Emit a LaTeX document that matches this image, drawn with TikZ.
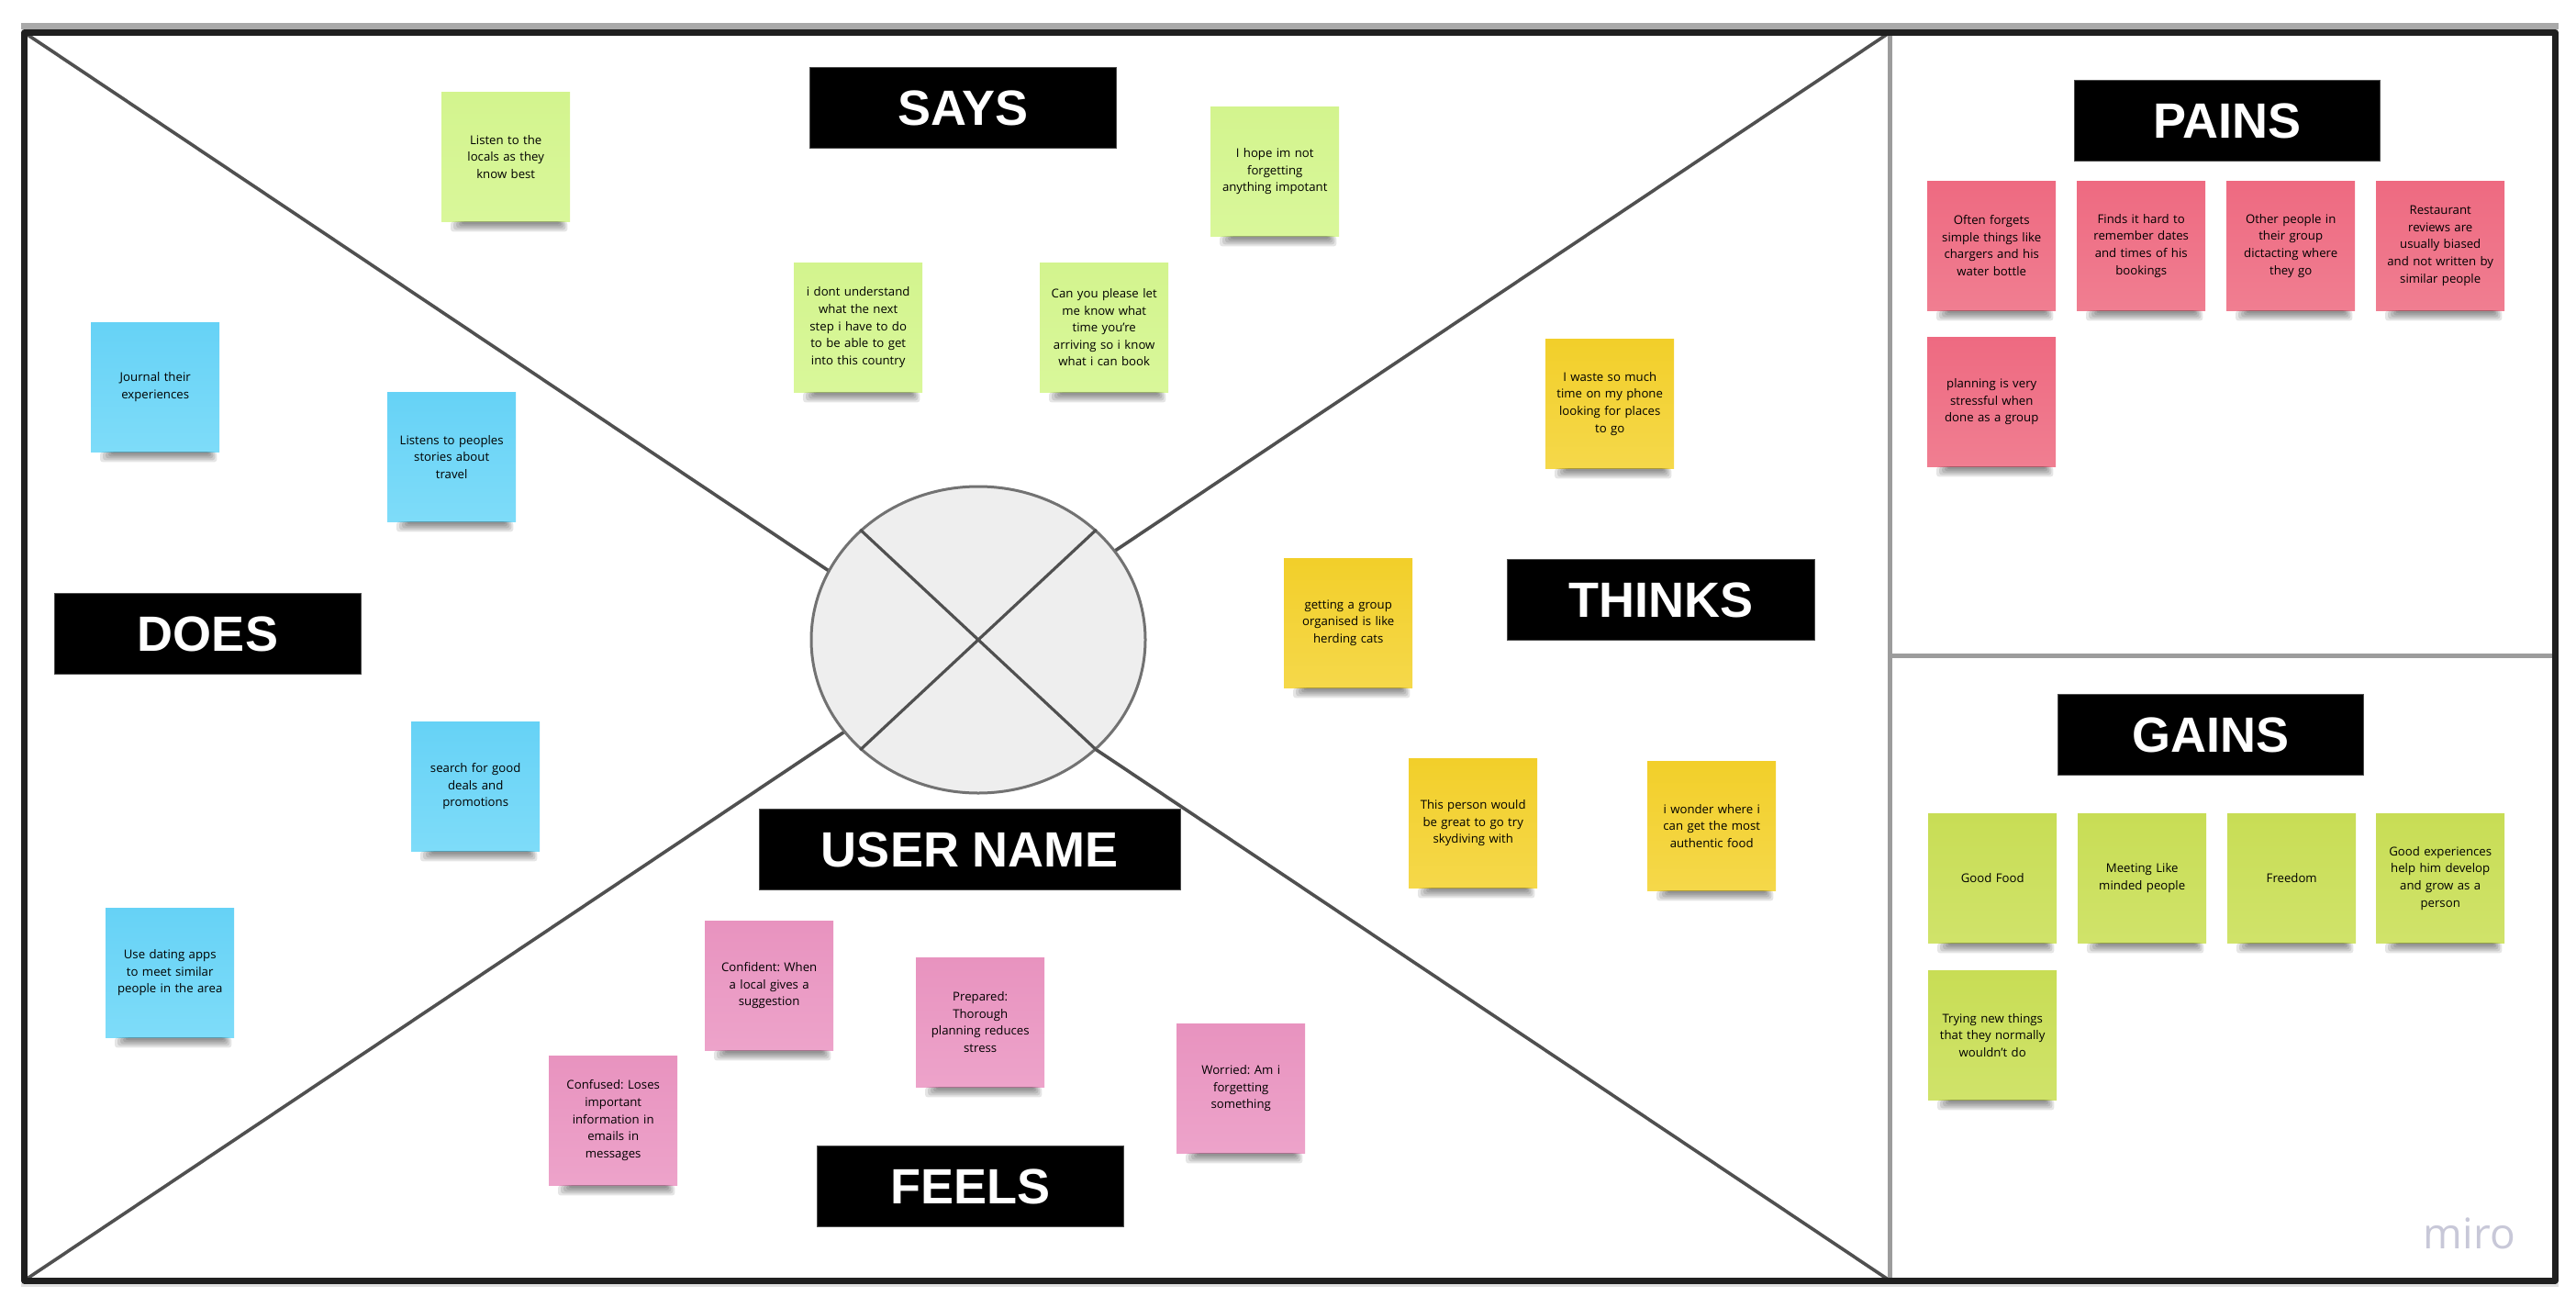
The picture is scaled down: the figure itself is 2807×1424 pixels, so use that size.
\documentclass[tikz,border=0pt]{standalone}
\usepackage{fontspec}
\setmainfont{Open Sans}
\newfontfamily\tagfont{Liberation Sans}
\usetikzlibrary{shapes.geometric}
\frenchspacing

% palette
\definecolor{frameink}{HTML}{1F1F1F}
\definecolor{framehaze}{HTML}{A9A9A9}
\definecolor{divider}{HTML}{9C9C9C}
\definecolor{crossink}{HTML}{505050}
\definecolor{hubfill}{HTML}{EEEEEE}
\definecolor{hubink}{HTML}{727272}
\definecolor{blueA}{HTML}{66D2F6}\definecolor{blueB}{HTML}{7EDCF9}
\definecolor{limeA}{HTML}{D3F48E}\definecolor{limeB}{HTML}{D9F79A}
\definecolor{yelA}{HTML}{F2CF2A}\definecolor{yelB}{HTML}{F5D84A}
\definecolor{pinkA}{HTML}{E893BF}\definecolor{pinkB}{HTML}{EDA3CA}
\definecolor{redA}{HTML}{EE6A81}\definecolor{redB}{HTML}{F07E91}
\definecolor{greenA}{HTML}{C8DD55}\definecolor{greenB}{HTML}{D0E36A}
\definecolor{logoink}{HTML}{C8C8D8}

\tikzset{
  note/.style={anchor=north west, minimum width=140pt, minimum height=141pt,
    inner sep=0pt, text width=136pt, align=center, text=black,
    font=\fontsize{13.2}{18.6}\selectfont},
  doesnote/.style={note, top color=blueA, bottom color=blueB},
  saysnote/.style={note, top color=limeA, bottom color=limeB},
  thinksnote/.style={note, top color=yelA, bottom color=yelB},
  feelsnote/.style={note, top color=pinkA, bottom color=pinkB},
  painnote/.style={note, top color=redA, bottom color=redB},
  gainnote/.style={note, top color=greenA, bottom color=greenB},
  notelift/.style={fill=black, fill opacity=0.1, rounded corners=3pt},
  tag/.style={anchor=north west, fill=black, draw=black!70, line width=1pt,
    minimum height=88pt, inner sep=0pt, text=white,
    font=\tagfont\bfseries\fontsize{54}{54}\selectfont},
  frameline/.style={draw=frameink, line width=7pt, line join=round, line cap=round},
  splitline/.style={draw=divider, line width=5pt},
  crossline/.style={draw=crossink, line width=3.6pt},
}

\begin{document}
\begin{tikzpicture}[x=1pt,y=-1pt]
\useasboundingbox (0,0) rectangle (2807,1424);
\fill[white] (0,0) rectangle (2807,1424);

% board corners
\coordinate (tl) at (26.5,35.5);
\coordinate (mt) at (2059,35.5);
\coordinate (tr) at (2784.5,35.5);
\coordinate (bl) at (26.5,1395);
\coordinate (mb) at (2059,1395);
\coordinate (br) at (2784.5,1395);
\coordinate (rl) at (2059,714.5);
\coordinate (rr) at (2784.5,714.5);

% soft haze above and below the board
\draw[framehaze, line width=7pt] (23,28.5) -- (2788,28.5);
\draw[black!12, line width=4pt] (23,1400) -- (2788,1400);

% quadrant diagonals
\draw[crossline] (tl) -- (mb);
\draw[crossline] (mt) -- (bl);

% central persona circle with its own cross
\node[ellipse, draw=hubink, line width=3pt, fill=hubfill,
  minimum width=364pt, minimum height=334pt, inner sep=0pt] (hub) at (1066,697) {};
\draw[crossline, line width=3.2pt] (hub.137) -- (hub.-43);
\draw[crossline, line width=3.2pt] (hub.43) -- (hub.-137);

% dividers and frame
\draw[splitline] (mt) -- (mb);
\draw[splitline] (rl) -- (rr);
\draw[frameline] (tl) -- (tr) -- (br) -- (bl) -- cycle;

% section titles
\node[tag, minimum width=334pt] (says) at (882,73) {SAYS};
\node[tag, minimum width=334pt] (does) at (59,646) {DOES};
\node[tag, minimum width=335pt] (thinks) at (1642,609) {THINKS};
\node[tag, minimum width=459pt] (user) at (827,881) {USER NAME};
\node[tag, minimum width=334pt] (feels) at (890,1248) {FEELS};
\node[tag, minimum width=333pt] (pains) at (2260,87) {PAINS};
\node[tag, minimum width=333pt] (gains) at (2242,756) {GAINS};

% does
\node[doesnote] (d1) at (99,351) {Journal their\\experiences};
\node[doesnote] (d2) at (422,427) {Listens to peoples\\stories about\\travel};
\node[doesnote] (d3) at (448,786) {search for good\\deals and\\promotions};
\node[doesnote] (d4) at (115,989) {Use dating apps\\to meet similar\\people in the area};

% says
\node[saysnote] (s1) at (481,100) {Listen to the\\locals as they\\know best};
\node[saysnote] (s2) at (1319,116) {I hope im not\\forgetting\\anything impotant};
\node[saysnote] (s3) at (865,286) {i dont understand\\what the next\\step i have to do\\to be able to get\\into this country};
\node[saysnote] (s4) at (1133,286) {Can you please let\\me know what\\time you’re\\arriving so i know\\what i can book};

% thinks
\node[thinksnote] (t1) at (1684,369) {I waste so much\\time on my phone\\looking for places\\to go};
\node[thinksnote] (t2) at (1399,608) {getting a group\\organised is like\\herding cats};
\node[thinksnote] (t3) at (1535,826) {This person would\\be great to go try\\skydiving with};
\node[thinksnote] (t4) at (1795,829) {i wonder where i\\can get the most\\authentic food};

% feels
\node[feelsnote] (f1) at (768,1003) {Confident: When\\a local gives a\\suggestion};
\node[feelsnote] (f2) at (598,1150) {Confused: Loses\\important\\information in\\emails in\\messages};
\node[feelsnote] (f3) at (998,1043) {Prepared:\\Thorough\\planning reduces\\stress};
\node[feelsnote] (f4) at (1282,1115) {Worried: Am i\\forgetting\\something};

% pains
\node[painnote] (p1) at (2100,197) {Often forgets\\simple things like\\chargers and his\\water bottle};
\node[painnote] (p2) at (2263,197) {Finds it hard to\\remember dates\\and times of his\\bookings};
\node[painnote] (p3) at (2426,197) {Other people in\\their group\\dictacting where\\they go};
\node[painnote] (p4) at (2589,197) {Restaurant\\reviews are\\usually biased\\and not written by\\similar people};
\node[painnote] (p5) at (2100,367) {planning is very\\stressful when\\done as a group};

% gains
\node[gainnote] (g1) at (2101,886) {Good Food};
\node[gainnote] (g2) at (2264,886) {Meeting Like\\minded people};
\node[gainnote] (g3) at (2427,886) {Freedom};
\node[gainnote] (g4) at (2589,886) {Good experiences\\help him develop\\and grow as a\\person};
\node[gainnote] (g5) at (2101,1057) {Trying new things\\that they normally\\wouldn't do};

% lifted-paper shadow under every note: stacked translucent strips
\foreach \n in {d1,d2,d3,d4,s1,s2,s3,s4,t1,t2,t3,t4,f1,f2,f3,f4,p1,p2,p3,p4,p5,g1,g2,g3,g4,g5}{
  \foreach \k in {0,1,2,3,4}
    \fill[notelift] ([xshift={10pt+3pt*\k}]\n.south west)
      rectangle ([xshift={-3pt-2pt*\k},yshift={-3pt-2pt*(4-\k)}]\n.south east);
}

% board watermark
\node[anchor=south east, inner sep=0pt, text=logoink, font=\fontsize{46}{46}\selectfont] (logo) at (2741,1361) {miro};
\end{tikzpicture}
\end{document}
